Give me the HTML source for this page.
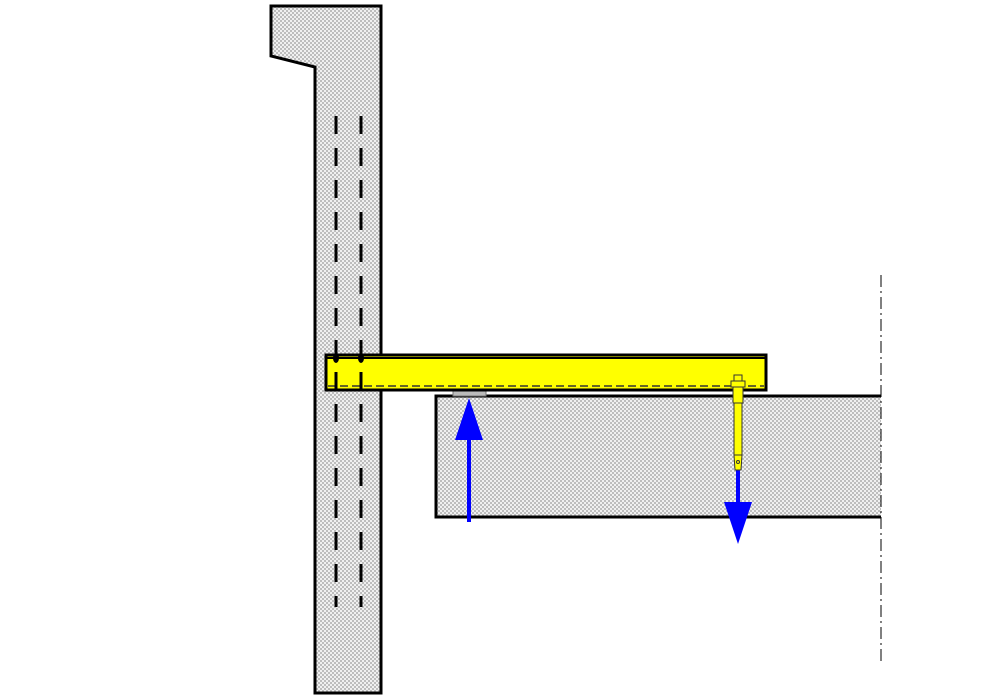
<!DOCTYPE html>
<html><head><meta charset="utf-8"><style>html,body{margin:0;padding:0;background:#fff}svg{display:block}</style></head>
<body>
<svg width="1000" height="700" viewBox="0 0 1000 700" xmlns="http://www.w3.org/2000/svg">
<defs>
<pattern id="h" width="4" height="4" patternUnits="userSpaceOnUse">
<rect width="4" height="4" fill="#f0f0f0"/>
<rect width="2" height="2" fill="#bdbdbd"/>
<rect x="2" y="2" width="2" height="2" fill="#bdbdbd"/>
</pattern>
</defs>
<polygon points="271,6 381,6 381,693 315,693 315,67 271,56" fill="url(#h)" stroke="#000" stroke-width="3"/>
<rect x="436" y="396" width="445" height="121" fill="url(#h)"/>
<polyline points="881,396 436,396 436,517 881,517" fill="none" stroke="#000" stroke-width="3"/>
<line x1="881" y1="275" x2="881" y2="665" stroke="#000" stroke-width="1" stroke-dasharray="12,4,2,4"/>
<rect x="453" y="390" width="33" height="6" fill="#bbb" stroke="#777" stroke-width="1"/>
<rect x="326" y="355" width="440" height="35" fill="#ffff00" stroke="#000" stroke-width="3"/>
<line x1="326" y1="358" x2="766" y2="358" stroke="#000" stroke-width="2"/>
<line x1="328" y1="386" x2="764" y2="386" stroke="#333" stroke-width="1.5" stroke-dasharray="8,4"/>
<g stroke="#000" stroke-width="3" stroke-dasharray="18,14">
<line x1="336" y1="116" x2="336" y2="607"/>
<line x1="361" y1="116" x2="361" y2="607"/>
</g>
<ellipse cx="336" cy="358" rx="3" ry="5" fill="#000"/>
<ellipse cx="361" cy="358" rx="3" ry="5" fill="#000"/>
<line x1="469" y1="522" x2="469" y2="435" stroke="#0000ff" stroke-width="4"/>
<polygon points="469,398 455,440 483,440" fill="#0000ff"/>
<line x1="738" y1="465" x2="738" y2="505" stroke="#0000ff" stroke-width="4"/>
<polygon points="724,502 752,502 738,544" fill="#0000ff"/>
<g fill="#ffff00" stroke="#333" stroke-width="1">
<rect x="734" y="375" width="8" height="6"/>
<rect x="731" y="381" width="14" height="6"/>
<rect x="733" y="387" width="10" height="16"/>
<rect x="734" y="403" width="8" height="52"/>
<polygon points="734,455 742,455 741,470 735,470"/>
<circle cx="738" cy="462" r="1.5" fill="none"/>
</g>
</svg>
</body></html>
